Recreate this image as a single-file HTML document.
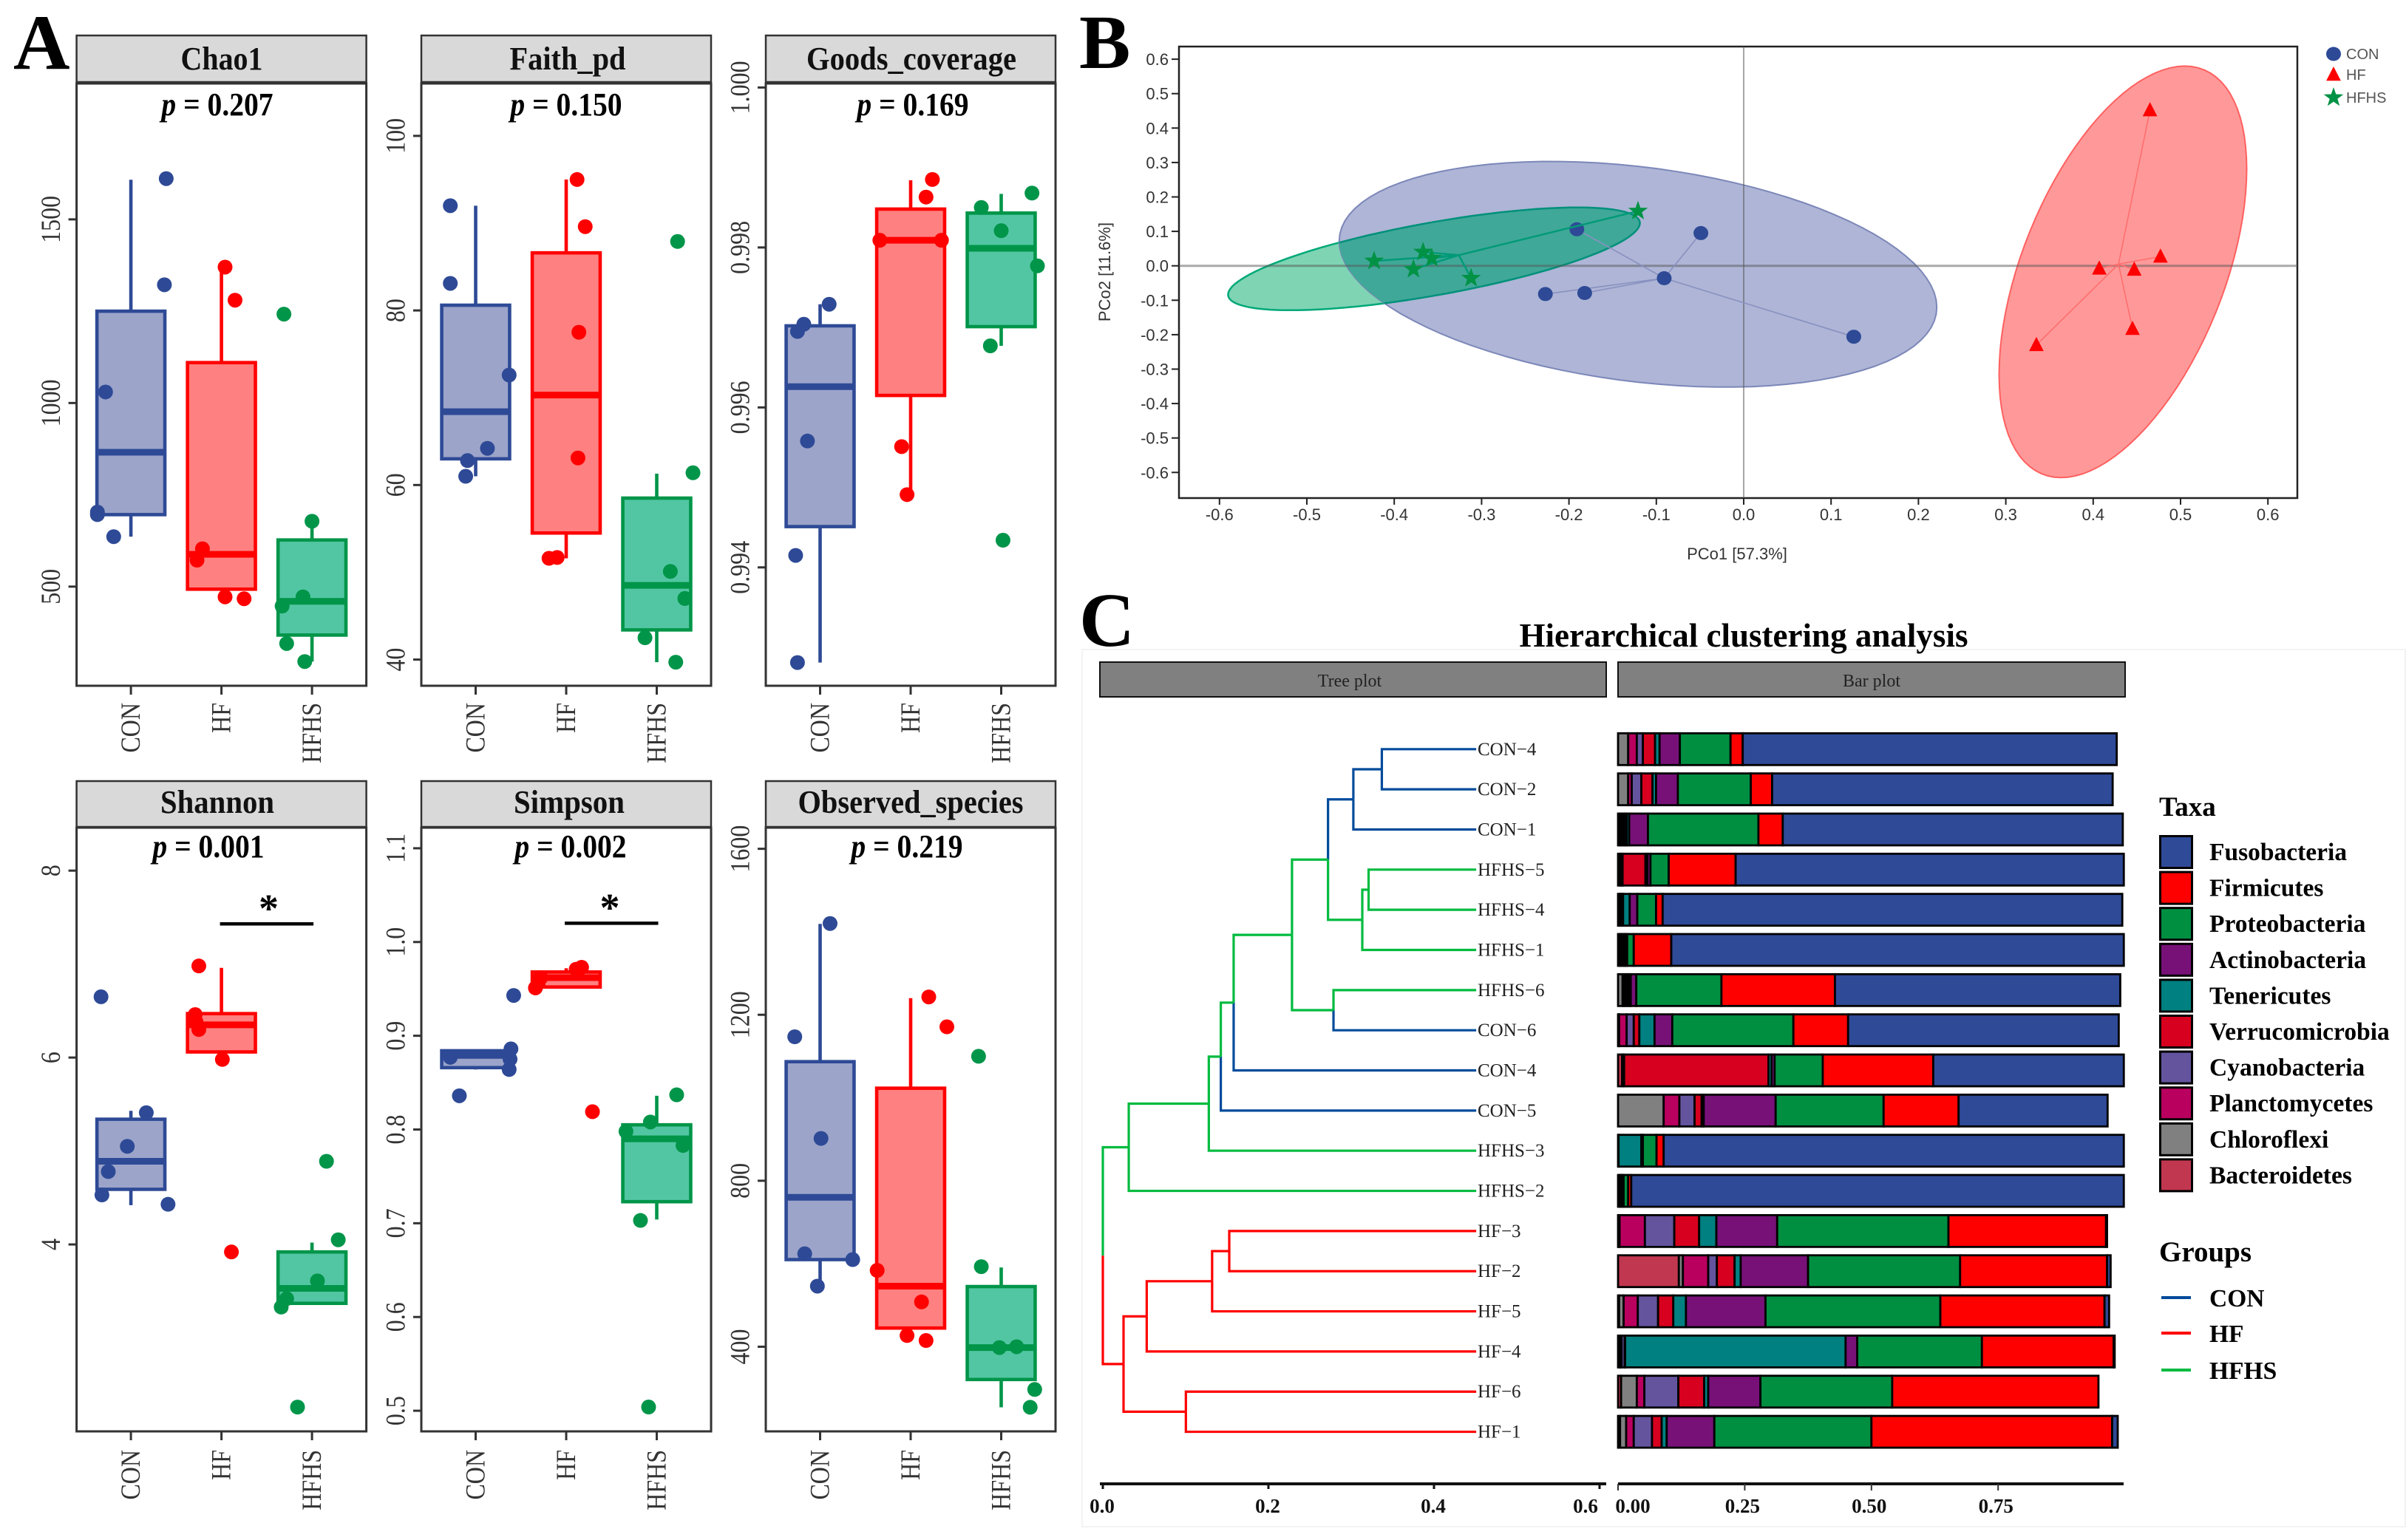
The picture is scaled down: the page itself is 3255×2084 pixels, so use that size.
<!DOCTYPE html>
<html lang="en">
<head>
<meta charset="utf-8">
<title>Microbiome diversity, PCoA and clustering figure</title>
<style>
html,body{margin:0;padding:0;background:#fff;width:3255px;height:2084px;overflow:hidden}
svg{display:block}
text{font-family:"Liberation Serif",serif}
.sans{font-family:"Liberation Sans",sans-serif}
</style>
</head>
<body>
<svg id="figure" xmlns="http://www.w3.org/2000/svg" width="3255" height="2084" viewBox="0 0 3255 2084">
<rect width="3255" height="2084" fill="#fff"/>
<text x="18" y="93" font-size="106" font-weight="bold" fill="#000">A</text>
<text x="1460" y="92" font-size="104" font-weight="bold" fill="#000">B</text>
<text x="1460" y="874" font-size="104" font-weight="bold" fill="#000">C</text>
<g id="panelA"></g>
<g id="panelB"></g>
<g id="panelC"></g>
</svg>
<script>
/* ---------- Panel A data ---------- */
const categories = ['CON','HF','HFHS'];

const chao1Domain = [230,1870];
const chao1Ticks = ['500','1000','1500'];
const chao1Q1 = [696,493,368];
const chao1Median = [866,588,460];
const chao1Q3 = [1250,1110,627];
const chao1Low = [636,493,296];
const chao1High = [1608,1366,692];
const chao1Values = [[1611,1322,1030,703,696,636],[1370,1280,603,572,472,467],[1242,678,472,447,345,296]];
const chao1Jitter = [[.39,.37,-.28,-.37,-.37,-.19],[.04,.15,-.21,-.27,.04,.25],[-.31,0,-.1,-.33,-.28,-.08]];

const faithDomain = [37,106];
const faithTicks = ['40','60','80','100'];
const faithQ1 = [63,54.5,43.4];
const faithMedian = [68.4,70.3,48.5];
const faithQ3 = [80.6,86.6,58.5];
const faithLow = [61,51.6,39.7];
const faithHigh = [92,95,61.3];
const faithValues = [[92,83.1,72.6,64.2,62.8,61],[95,89.6,77.5,63.1,51.7,51.6],[87.9,61.4,50.1,47,42.5,39.7]];
const faithJitter = [[-.28,-.28,.37,.13,-.09,-.11],[.12,.21,.14,.13,-.1,-.19],[.23,.4,.15,.31,-.13,.21]];

const goodsDomain = [.99252,1.00005];
const goodsTicks = ['0.994','0.996','0.998','1.000'];
const goodsQ1 = [.99451,.99615,.99701];
const goodsMedian = [.99626,.99809,.99799];
const goodsQ3 = [.99702,.99848,.99843];
const goodsLow = [.99281,.99491,.99677];
const goodsHigh = [.99729,.99884,.99867];
const goodsValues = [[.99729,.99704,.99695,.99558,.99415,.99281],[.99885,.99863,.99809,.99809,.99551,.99491],[.99868,.9985,.99821,.99777,.99677,.99434]];
const goodsJitter = [[.1,-.18,-.25,-.14,-.27,-.25],[.24,.17,-.34,.34,-.1,-.04],[.34,-.22,0,.4,-.12,.02]];

const shannonDomain = [2.0,8.46];
const shannonTicks = ['4','6','8'];
const shannonQ1 = [4.59,6.06,3.37];
const shannonMedian = [4.89,6.35,3.53];
const shannonQ3 = [5.34,6.47,3.92];
const shannonLow = [4.42,6.06,3.37];
const shannonHigh = [5.43,6.96,4.02];
const shannonValues = [[6.65,5.41,5.05,4.78,4.53,4.43],[6.98,6.46,6.38,6.3,5.98,3.92],[4.89,4.05,3.61,3.42,3.33,2.26]];
const shannonJitter = [[-.33,.17,-.04,-.25,-.32,.41],[-.25,-.29,-.28,-.25,.01,.11],[.16,.29,.06,-.28,-.34,-.16]];

const simpsonDomain = [.478,1.122];
const simpsonTicks = ['0.5','0.6','0.7','0.8','0.9','1.0','1.1'];
const simpsonQ1 = [.866,.952,.723];
const simpsonMedian = [.879,.962,.79];
const simpsonQ3 = [.884,.968,.805];
const simpsonLow = [.864,.952,.704];
const simpsonHigh = [.884,.972,.836];
const simpsonValues = [[.943,.886,.877,.875,.864,.836],[.973,.971,.962,.956,.951,.819],[.837,.808,.798,.783,.703,.504]];
const simpsonJitter = [[.42,.39,-.28,.38,.37,-.18],[.17,.11,-.28,-.31,-.34,.29],[.22,-.07,-.34,.29,-.18,-.09]];

const observedDomain = [196,1651];
const observedTicks = ['400','800','1200','1600'];
const observedQ1 = [610,445,321];
const observedMedian = [760,546,398];
const observedQ3 = [1087,1023,545];
const observedLow = [546,445,254];
const observedHigh = [1419,1240,591];
const observedValues = [[1420,1147,902,624,610,546],[1243,1171,584,508,427,415],[1100,593,398,400,297,254]];
const observedJitter = [[.11,-.28,.01,-.17,.36,-.03],[.2,.4,-.37,.12,-.04,.17],[-.25,-.22,-.02,.17,.37,.32]];

const pValues = ['0.207','0.150','0.169','0.001','0.002','0.219'];

/* ---------- Panel B data ---------- */
const pcoaXTicks = ['-0.6','-0.5','-0.4','-0.3','-0.2','-0.1','0.0','0.1','0.2','0.3','0.4','0.5','0.6'];
const pcoaYTicks = ['-0.6','-0.5','-0.4','-0.3','-0.2','-0.1','0.0','0.1','0.2','0.3','0.4','0.5','0.6'];
const pcoaConX = [-.191,-.049,-.091,-.227,-.182,.126];
const pcoaConY = [.106,.095,-.036,-.082,-.079,-.206];
const pcoaHfX = [.465,.477,.407,.447,.445,.335];
const pcoaHfY = [.452,.027,-.008,-.011,-.183,-.23];
const pcoaHfhsX = [-.121,-.367,-.357,-.423,-.378,-.312];
const pcoaHfhsY = [.159,.04,.022,.014,-.01,-.036];
const pcoaConCentre = [-.091,-.036];
const pcoaHfCentre = [.429,.005];
const pcoaHfhsCentre = [-.326,.031];
/* ellipse: centre x, centre y, half width, y-offset at the x extreme, conjugate half height */
const ellipseCon = [-.121,-.0246,.342,-.0957,.3134];
const ellipseHf = [.434,-.0175,.1417,.2987,.5175];
const ellipseHfhs = [-.3545,.0202,.2357,.1039,.1072];

/* ---------- Panel C data ---------- */
const leafLabels = ['CON−4','CON−2','CON−1','HFHS−5','HFHS−4','HFHS−1','HFHS−6','CON−6','CON−4','CON−5','HFHS−3','HFHS−2','HF−3','HF−2','HF−5','HF−4','HF−6','HF−1'];
const leafGroups = ['CON','CON','CON','HFHS','HFHS','HFHS','HFHS','CON','CON','CON','HFHS','HFHS','HF','HF','HF','HF','HF','HF'];
const leafDistance = 0.451;
/* merge: height, child A, child B, group. Child >=0 is a leaf, child <0 is merge -(k+1) */
const treeMerges = [
 [.337,0,1,'CON'],[.3026,-1,2,'CON'],[.321,3,4,'HFHS'],[.3134,-3,5,'HFHS'],
 [.272,-2,-4,'HFHS'],[.2786,6,7,'HFHS'],[.2285,-5,-6,'HFHS'],[.158,-7,8,'HFHS'],
 [.1425,-8,9,'HFHS'],[.128,-9,10,'HFHS'],[.0313,-10,11,'HFHS'],
 [.1527,12,13,'HF'],[.132,-12,14,'HF'],[.053,-13,15,'HF'],[.1003,16,17,'HF'],[.025,-14,-15,'HF'],
 [0,-11,-16,'ROOT']
];
const treeTicks = ['0.0','0.2','0.4','0.6'];
const barTicks = ['0.00','0.25','0.50','0.75'];
const stackTaxa = ['Bacteroidetes','Chloroflexi','Planctomycetes','Cyanobacteria','Verrucomicrobia','Tenericutes','Actinobacteria','Proteobacteria','Firmicutes','Fusobacteria'];
const barValues = [
 [0,.020,.017,.012,.024,.009,.040,.100,.024,.738],
 [0,.020,.007,.019,.022,.007,.043,.144,.042,.672],
 [.003,.004,.004,.003,.003,.005,.037,.218,.048,.671],
 [.004,.002,.003,0,.045,.004,.006,.036,.132,.766],
 [.003,.003,.002,.002,0,.013,.015,.037,.013,.907],
 [.004,.004,.004,.002,.001,0,.003,.013,.074,.893],
 [0,.009,.004,.004,.004,.004,.011,.168,.224,.563],
 [.001,.001,.015,.014,.011,.03,.035,.239,.108,.534],
 [.008,.002,.001,.001,.285,.006,.006,.095,.218,.376],
 [0,.09,.031,.03,.014,.004,.142,.213,.148,.294],
 [.001,0,0,0,0,.045,.003,.027,.014,.908],
 [.003,.003,.002,0,0,0,.003,.009,.006,.972],
 [.001,.002,.05,.058,.049,.034,.12,.338,.311,.002],
 [.12,.008,.05,.017,.035,.012,.133,.3,.29,.007],
 [.002,.009,.028,.04,.03,.025,.157,.345,.324,.009],
 [.003,.002,.002,.006,.001,.435,.023,.246,.26,.002],
 [.006,.031,.015,.067,.051,.008,.103,.26,.407,0],
 [.004,.012,.015,.036,.019,.01,.094,.31,.475,.011]
];
const legendTaxa = ['Fusobacteria','Firmicutes','Proteobacteria','Actinobacteria','Tenericutes','Verrucomicrobia','Cyanobacteria','Planctomycetes','Chloroflexi','Bacteroidetes'];
const legendGroups = ['CON','HF','HFHS'];

/* ---------- Styles ---------- */
const groupStroke = {CON:'#2E4A96',HF:'#FF0000',HFHS:'#009549'};
const groupFill = {CON:'#9CA4CA',HF:'#FF8080',HFHS:'#52C6A2'};
const treeColor = {CON:'#004B9B',HF:'#FF0000',HFHS:'#00BB3F'};
const taxaColor = {Fusobacteria:'#2F4A97',Firmicutes:'#FF0000',Proteobacteria:'#008F41',Actinobacteria:'#771177',Tenericutes:'#008080',Verrucomicrobia:'#D7001E',Cyanobacteria:'#64549E',Planctomycetes:'#B9005F',Chloroflexi:'#808080',Bacteroidetes:'#C13750'};

const NS = 'http://www.w3.org/2000/svg';
function mk(tag, attrs, parent){
  const e = document.createElementNS(NS, tag);
  for (const k in attrs) e.setAttribute(k, attrs[k]);
  parent.appendChild(e);
  return e;
}
function slug(s){ return String(s).toLowerCase().replace(/[^a-z0-9]+/g,'-').replace(/^-|-$/g,''); }

/* ---------- Panel A ---------- */
const gA = document.getElementById('panelA');
const colLeft = [103.6,570,1036];
const panelW = 392;
const rowGeom = [
  {stripTop:48,stripBottom:111,top:113,bottom:928,titleY:94,pY:156,labelTop:951},
  {stripTop:1057,stripBottom:1119,top:1120,bottom:1937,titleY:1100,pY:1160,labelTop:1962}
];
const panelDefs = [
 {title:'Chao1',col:0,row:0,tw:111,tc:300,pc:294,dom:chao1Domain,ticks:chao1Ticks,q1:chao1Q1,med:chao1Median,q3:chao1Q3,lo:chao1Low,hi:chao1High,vals:chao1Values,jit:chao1Jitter,p:0},
 {title:'Faith_pd',col:1,row:0,tw:157,tc:768,pc:766,dom:faithDomain,ticks:faithTicks,q1:faithQ1,med:faithMedian,q3:faithQ3,lo:faithLow,hi:faithHigh,vals:faithValues,jit:faithJitter,p:1},
 {title:'Goods_coverage',col:2,row:0,tw:284,tc:1233,pc:1235,dom:goodsDomain,ticks:goodsTicks,q1:goodsQ1,med:goodsMedian,q3:goodsQ3,lo:goodsLow,hi:goodsHigh,vals:goodsValues,jit:goodsJitter,p:2},
 {title:'Shannon',col:0,row:1,tw:154,tc:294,pc:282,dom:shannonDomain,ticks:shannonTicks,q1:shannonQ1,med:shannonMedian,q3:shannonQ3,lo:shannonLow,hi:shannonHigh,vals:shannonValues,jit:shannonJitter,p:3,sigY:7.43,starX:363.5},
 {title:'Simpson',col:1,row:1,tw:150,tc:770,pc:772,dom:simpsonDomain,ticks:simpsonTicks,q1:simpsonQ1,med:simpsonMedian,q3:simpsonQ3,lo:simpsonLow,hi:simpsonHigh,vals:simpsonValues,jit:simpsonJitter,p:4,sigY:1.02,starX:825},
 {title:'Observed_species',col:2,row:1,tw:305,tc:1232,pc:1227,dom:observedDomain,ticks:observedTicks,q1:observedQ1,med:observedMedian,q3:observedQ3,lo:observedLow,hi:observedHigh,vals:observedValues,jit:observedJitter,p:5}
];
panelDefs.forEach(function(d){
  const left = colLeft[d.col], g0 = rowGeom[d.row], id = slug(d.title);
  const top = g0.top, bottom = g0.bottom;
  const catX = function(i){ return left + (i + .6) * panelW / 3.2; };
  const catW = panelW / 3.2;
  const yS = function(v){ return top + (d.dom[1] - v) / (d.dom[1] - d.dom[0]) * (bottom - top); };
  const g = mk('g',{},gA);
  
  

  const strip = mk('rect',{x:left,y:g0.stripTop,width:panelW,height:g0.stripBottom-g0.stripTop,fill:'#D9D9D9',stroke:'#333','stroke-width':2.5},g);
  
  
  const title = mk('text',{x:d.tc,y:g0.titleY,'text-anchor':'middle','font-size':44,'font-weight':'bold',fill:'#111',textLength:d.tw,lengthAdjust:'spacingAndGlyphs'},g);
  title.textContent = d.title;
  
  

  const frame = mk('rect',{x:left,y:top,width:panelW,height:bottom-top,fill:'#fff',stroke:'#333','stroke-width':3},g);
  
  

  d.ticks.forEach(function(t){
    const yy = yS(parseFloat(t));
    const tk = mk('line',{x1:left-11,x2:left,y1:yy,y2:yy,stroke:'#333','stroke-width':3},g);
    
    
    const lb = mk('text',{transform:'translate('+(left-22.6)+','+yy+') rotate(-90) scale(1,1.15)','text-anchor':'middle','font-size':32,fill:'#333'},g);
    lb.textContent = t;
    
    
  });

  categories.forEach(function(c,i){
    const cx = catX(i), hw = catW * .375;
    const st = groupStroke[c];
    const tk = mk('line',{x1:cx,x2:cx,y1:bottom,y2:bottom+12,stroke:'#333','stroke-width':3},g);
    
    
    const lb = mk('text',{transform:'translate('+(cx+12)+','+g0.labelTop+') rotate(-90) scale(1,1.15)','text-anchor':'end','font-size':32,fill:'#333'},g);
    lb.textContent = c;
    
    

    const wh = mk('line',{x1:cx,x2:cx,y1:yS(d.hi[i]),y2:yS(d.q3[i]),stroke:st,'stroke-width':4.6},g);
    
    
    const wl = mk('line',{x1:cx,x2:cx,y1:yS(d.q1[i]),y2:yS(d.lo[i]),stroke:st,'stroke-width':4.6},g);
    
    
    const bx = mk('rect',{x:cx-hw,y:yS(d.q3[i]),width:hw*2,height:yS(d.q1[i])-yS(d.q3[i]),fill:groupFill[c],stroke:st,'stroke-width':4.6},g);
    
    
    const md = mk('line',{x1:cx-hw,x2:cx+hw,y1:yS(d.med[i]),y2:yS(d.med[i]),stroke:st,'stroke-width':9},g);
    
    
    d.vals[i].forEach(function(v,k){
      const pt = mk('circle',{cx:cx+d.jit[i][k]*catW,cy:yS(v),r:10,fill:st},g);
      
      
    });
  });

  const pl = mk('text',{transform:'translate('+d.pc+','+g0.pY+') scale(.9,1)','text-anchor':'middle','font-size':44,'font-weight':'bold',fill:'#000'},g);
  const ps = mk('tspan',{'font-style':'italic'},pl);
  ps.textContent = 'p';
  const pr = mk('tspan',{},pl);
  pr.textContent = ' = ' + pValues[d.p];
  
  

  if (d.sigY !== undefined){
    const br = mk('line',{x1:catX(1)-2,x2:catX(2)+2,y1:yS(d.sigY),y2:yS(d.sigY),stroke:'#000','stroke-width':4.5},g);
    
    
    const as = mk('text',{x:d.starX,y:yS(d.sigY)-3,'text-anchor':'middle','font-size':54,'font-weight':'bold',fill:'#000'},g);
    as.textContent = '*';
    
    
  }
});

/* ---------- Panel B ---------- */
const gB = document.getElementById('panelB');
const bx0 = 2359, bxK = 1182, by0 = 359.7, byK = 466;
const pX = function(v){ return bx0 + v * bxK; };
const pY = function(v){ return by0 - v * byK; };
const bLeft = 1595, bRight = 3108, bTop = 63, bBottom = 674;

const bFrame = mk('rect',{x:bLeft,y:bTop,width:bRight-bLeft,height:bBottom-bTop,fill:'#fff',stroke:'#222','stroke-width':2.5},gB);



function ellipsePath(p){
  let s = '';
  for (let i = 0; i <= 96; i++){
    const t = i / 96 * Math.PI * 2;
    const x = p[0] + p[2] * Math.cos(t);
    const y = p[1] + p[3] * Math.cos(t) + p[4] * Math.sin(t);
    s += (i ? 'L' : 'M') + pX(x).toFixed(1) + ' ' + pY(y).toFixed(1);
  }
  return s + 'Z';
}
const bDefs = mk('defs',{},gB);
const clip = mk('clipPath',{id:'conClip'},bDefs);
mk('path',{d:ellipsePath(ellipseCon)},clip);

const elHfhs = mk('path',{d:ellipsePath(ellipseHfhs),fill:'#7FD4B4',stroke:'#00A878','stroke-width':2.5},gB);


const elCon = mk('path',{d:ellipsePath(ellipseCon),fill:'#AEB5D6',stroke:'#7C87B8','stroke-width':2},gB);


const elOverlap = mk('path',{d:ellipsePath(ellipseHfhs),fill:'#40A898',stroke:'#00907A','stroke-width':2.5,'clip-path':'url(#conClip)'},gB);


const elHf = mk('path',{d:ellipsePath(ellipseHf),fill:'#FF9999',stroke:'#FF6060','stroke-width':2},gB);



const zeroH = mk('line',{x1:bLeft,x2:bRight,y1:pY(0),y2:pY(0),stroke:'#555','stroke-opacity':.5,'stroke-width':3},gB);


const zeroV = mk('line',{x1:pX(0),x2:pX(0),y1:bTop,y2:bBottom,stroke:'#555','stroke-opacity':.7,'stroke-width':1.5},gB);



pcoaXTicks.forEach(function(t){
  const xx = pX(parseFloat(t));
  const tk = mk('line',{x1:xx,x2:xx,y1:bBottom,y2:bBottom+9,stroke:'#222','stroke-width':2},gB);
  
  
  const lb = mk('text',{class:'sans',x:xx,y:704,'text-anchor':'middle','font-size':22,fill:'#333'},gB);
  lb.textContent = t;
  
  
});
pcoaYTicks.forEach(function(t){
  const yy = pY(parseFloat(t));
  const tk = mk('line',{x1:bLeft-10,x2:bLeft,y1:yy,y2:yy,stroke:'#222','stroke-width':2},gB);
  
  
  const lb = mk('text',{class:'sans',x:1581,y:yy+8,'text-anchor':'end','font-size':22,fill:'#333'},gB);
  lb.textContent = t;
  
  
});
const xTitle = mk('text',{class:'sans',x:2350,y:757,'text-anchor':'middle','font-size':22,fill:'#333'},gB);
xTitle.textContent = 'PCo1 [57.3%]';


const yTitle = mk('text',{class:'sans',transform:'translate(1502,368) rotate(-90)','text-anchor':'middle','font-size':22,fill:'#333'},gB);
yTitle.textContent = 'PCo2 [11.6%]';



function starPath(cx,cy,r){
  let s = '';
  for (let i = 0; i < 10; i++){
    const a = -Math.PI/2 + i*Math.PI/5, rr = i%2 ? r*.4 : r;
    s += (i ? 'L' : 'M') + (cx+rr*Math.cos(a)).toFixed(1) + ' ' + (cy+rr*Math.sin(a)).toFixed(1);
  }
  return s + 'Z';
}
function trianglePath(cx,cy,r){
  return 'M'+cx+' '+(cy-r)+'L'+(cx+r*.9)+' '+(cy+r*.75)+'L'+(cx-r*.9)+' '+(cy+r*.75)+'Z';
}
function marker(group,cx,cy,parent){
  if (group === 'CON') return mk('ellipse',{cx:cx,cy:cy,rx:10,ry:9.5,fill:groupStroke.CON},parent);
  if (group === 'HF') return mk('path',{d:trianglePath(cx,cy,11),fill:'#FF0000'},parent);
  return mk('path',{d:starPath(cx,cy,14),fill:'#009245'},parent);
}
const pcoaGroups = [
  {name:'CON',xs:pcoaConX,ys:pcoaConY,c:pcoaConCentre,line:'#8891C0',w:1.6},
  {name:'HF',xs:pcoaHfX,ys:pcoaHfY,c:pcoaHfCentre,line:'#FF6E6E',w:1.6},
  {name:'HFHS',xs:pcoaHfhsX,ys:pcoaHfhsY,c:pcoaHfhsCentre,line:'#009A78',w:2.5}
];
pcoaGroups.forEach(function(G){
  const g = mk('g',{},gB);
  
  
  G.xs.forEach(function(v,i){
    const sp = mk('line',{x1:pX(G.c[0]),y1:pY(G.c[1]),x2:pX(v),y2:pY(G.ys[i]),stroke:G.line,'stroke-width':G.w},g);
    
    
  });
  G.xs.forEach(function(v,i){
    const m = marker(G.name,pX(v),pY(G.ys[i]),g);
    
    
  });
});
legendGroups.forEach(function(n,i){
  const ly = [73,101,132][i];
  const m = marker(n,3157,ly,gB);
  
  
  const t = mk('text',{class:'sans',x:3174,y:ly+7,'font-size':20,fill:'#555'},gB);
  t.textContent = n;
  
  
});

/* ---------- Panel C ---------- */
const gC = document.getElementById('panelC');
const treeX = function(v){ return 1492 + 1120 * v; };
const barX = function(v){ return 2189 + 685.6 * v; };
const rowY = function(i){ return 1013.8 + 54.34 * i; };

const border = mk('rect',{x:1464,y:879,width:1790,height:1187,fill:'none',stroke:'#F3F3F3','stroke-width':2},gC);


const cTitle = mk('text',{x:2359,y:875,'text-anchor':'middle','font-size':46,'font-weight':'bold',fill:'#000',textLength:607,lengthAdjust:'spacingAndGlyphs'},gC);
cTitle.textContent = 'Hierarchical clustering analysis';



const stripTree = mk('rect',{x:1488,y:896,width:685,height:47,fill:'#808080',stroke:'#111','stroke-width':2},gC);


const stripTreeText = mk('text',{x:1826,y:929,'text-anchor':'middle','font-size':24,fill:'#222'},gC);
stripTreeText.textContent = 'Tree plot';


const stripBar = mk('rect',{x:2189,y:896,width:686,height:47,fill:'#808080',stroke:'#111','stroke-width':2},gC);


const stripBarText = mk('text',{x:2532,y:929,'text-anchor':'middle','font-size':24,fill:'#222'},gC);
stripBarText.textContent = 'Bar plot';



/* dendrogram */
const treeG = mk('g',{fill:'none','stroke-width':3.2},gC);


const mergeY = [];
function childInfo(c){
  if (c >= 0) return {y:rowY(c),h:leafDistance,group:leafGroups[c]};
  const k = -c - 1;
  return {y:mergeY[k],h:treeMerges[k][0],group:treeMerges[k][3]};
}
treeMerges.forEach(function(m,k){
  const a = childInfo(m[1]), b = childInfo(m[2]);
  const my = (a.y + b.y) / 2;
  mergeY[k] = my;
  [a,b].forEach(function(ch){
    const p = mk('path',{d:'M'+treeX(m[0])+' '+my+'V'+ch.y+'H'+treeX(ch.h),stroke:treeColor[ch.group]},treeG);
    
    
  });
});
leafLabels.forEach(function(t,i){
  const lb = mk('text',{x:1999,y:rowY(i)+8,'font-size':25,fill:'#222'},gC);
  lb.textContent = t;
  
  
});

/* stacked bars */
const barsG = mk('g',{stroke:'#000','stroke-width':2.8},gC);


barValues.forEach(function(row,i){
  let acc = 0;
  row.forEach(function(v,j){
    if (v > 0){
      const r = mk('rect',{x:barX(acc),y:rowY(i)-21.5,width:Math.max(barX(acc+v)-barX(acc),.5),height:43,fill:taxaColor[stackTaxa[j]]},barsG);
      
      
    }
    acc += v;
  });
});

/* axes */
const axisTree = mk('line',{x1:1488,x2:2173,y1:2008,y2:2008,stroke:'#111','stroke-width':4},gC);


const axisBar = mk('line',{x1:2189,x2:2873,y1:2008,y2:2008,stroke:'#111','stroke-width':4},gC);


treeTicks.forEach(function(t,i){
  const xx = treeX(parseFloat(t));
  const tk = mk('line',{x1:xx,x2:xx,y1:2008,y2:2015,stroke:'#111','stroke-width':3},gC);
  
  
  const lb = mk('text',{x:i === 3 ? xx-19 : xx-1,y:2047,'text-anchor':'middle','font-size':27,'font-weight':'bold',fill:'#111'},gC);
  lb.textContent = t;
  
  
});
barTicks.forEach(function(t,i){
  const xx = barX(parseFloat(t));
  const tk = mk('line',{x1:xx,x2:xx,y1:2008,y2:2017,stroke:'#333','stroke-width':2},gC);
  
  
  const lb = mk('text',{x:i === 0 ? xx+20 : xx-3,y:2047,'text-anchor':'middle','font-size':27,'font-weight':'bold',fill:'#111'},gC);
  lb.textContent = t;
  
  
});

/* legends */
const taxaTitle = mk('text',{x:2921,y:1104,'font-size':37,'font-weight':'bold',fill:'#000'},gC);
taxaTitle.textContent = 'Taxa';


legendTaxa.forEach(function(t,i){
  const yy = 1130 + i * 48.6;
  const sw = mk('rect',{x:2922.5,y:yy+1.5,width:43,height:43,fill:taxaColor[t],stroke:'#000','stroke-width':3},gC);
  
  
  const lb = mk('text',{x:2989,y:yy+34,'font-size':33.5,'font-weight':'bold',fill:'#000'},gC);
  lb.textContent = t;
  
  
});
const groupsTitle = mk('text',{x:2921,y:1707,'font-size':39,'font-weight':'bold',fill:'#000'},gC);
groupsTitle.textContent = 'Groups';


legendGroups.forEach(function(n,i){
  const yy = [1756,1804,1854][i];
  const ln = mk('line',{x1:2924,x2:2964,y1:yy,y2:yy,stroke:treeColor[n],'stroke-width':4},gC);
  
  
  const lb = mk('text',{x:2989,y:yy+12,'font-size':33.5,'font-weight':'bold',fill:'#000'},gC);
  lb.textContent = n;
  
  
});
</script>
</body>
</html>
